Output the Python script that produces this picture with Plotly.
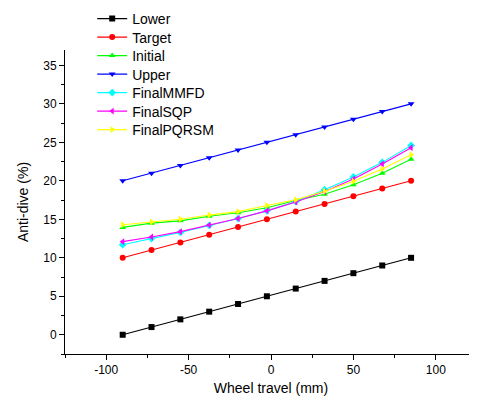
import plotly.graph_objects as go

x = [-90, -72.5, -55, -37.5, -20, -2.5, 15, 32.5, 50, 67.5, 85]
lower = [0, 1, 2, 3, 4, 5, 6, 7, 8, 9, 10]
target = [10, 11, 12, 13, 14, 15, 16, 17, 18, 19, 20]
initial = [13.95, 14.5, 14.8, 15.4, 15.85, 16.5, 17.45, 18.25, 19.5, 21.0, 22.8]
upper = [20, 21, 22, 23, 24, 25, 26, 27, 28, 29, 30]
final_mmfd = [11.7, 12.5, 13.3, 14.2, 15.1, 16.1, 17.3, 18.85, 20.5, 22.4, 24.6]
final_sqp = [12.1, 12.7, 13.4, 14.25, 15.1, 16.1, 17.25, 18.6, 20.25, 22.2, 24.3]
final_pqrsm = [14.3, 14.65, 15.0, 15.55, 16.0, 16.8, 17.55, 18.65, 19.95, 21.55, 23.4]

x_tickvals = [-100, -50, 0, 50, 100]
x_ticktext = ["-100", "-50", "0", "50", "100"]
y_tickvals = [0, 5, 10, 15, 20, 25, 30, 35]

series = [
    ("Lower", lower, "#000000", "square"),
    ("Target", target, "#FF0000", "circle"),
    ("Initial", initial, "#00FF00", "triangle-up"),
    ("Upper", upper, "#0000FF", "triangle-down"),
    ("FinalMMFD", final_mmfd, "#00FFFF", "diamond"),
    ("FinalSQP", final_sqp, "#FF00FF", "triangle-left"),
    ("FinalPQRSM", final_pqrsm, "#FFFF00", "triangle-right"),
]

W, H = 469, 388
ML, MR, MT, MB = 57, 0, 42, 42
plot_h = H - MT - MB
font_family = "Arial, Liberation Sans, sans-serif"

fig = go.Figure()
legend_layout = {}
for i, (name, ys, color, sym) in enumerate(series):
    lid = "legend" if i == 0 else f"legend{i + 1}"
    fig.add_trace(go.Scatter(
        x=x, y=ys, name=name, mode="lines+markers",
        line=dict(color=color, width=1.1),
        marker=dict(color=color, symbol=sym, size=6),
        legend=lid,
    ))
    center_fig_y = 11 + 18.5 * i
    legend_layout[lid] = dict(
        x=0.066, y=(H - MB - center_fig_y) / plot_h,
        xanchor="left", yanchor="middle",
        bgcolor="rgba(0,0,0,0)", borderwidth=0,
        font=dict(size=14, color="#000000", family=font_family),
        itemwidth=30,
    )

fig.update_layout(
    width=W, height=H,
    margin=dict(l=ML, r=MR, t=MT, b=MB, autoexpand=False),
    paper_bgcolor="white", plot_bgcolor="white",
    font=dict(family=font_family, size=12, color="#000000"),
    showlegend=True,
    xaxis=dict(
        range=[-125, 125], tickvals=x_tickvals, ticktext=x_ticktext,
        showgrid=False, zeroline=False, showline=True, linecolor="black", linewidth=1,
        ticks="outside", ticklen=5, tickcolor="black",
        minor=dict(dtick=25, tick0=0, ticks="outside", ticklen=3, tickcolor="black", showgrid=False),
        title=dict(text="Wheel travel (mm)", font=dict(size=14), standoff=6),
        tickfont=dict(size=12),
        automargin=False,
    ),
    yaxis=dict(
        range=[-2.5, 37], tickvals=y_tickvals,
        showgrid=False, zeroline=False, showline=True, linecolor="black", linewidth=1,
        ticks="outside", ticklen=5, tickcolor="black",
        minor=dict(dtick=2.5, tick0=0, ticks="outside", ticklen=3, tickcolor="black", showgrid=False),
        title=dict(text="Anti-dive (%)", font=dict(size=14), standoff=11),
        tickfont=dict(size=12),
        automargin=False,
    ),
    **legend_layout,
)

fig.write_html("out.html")
